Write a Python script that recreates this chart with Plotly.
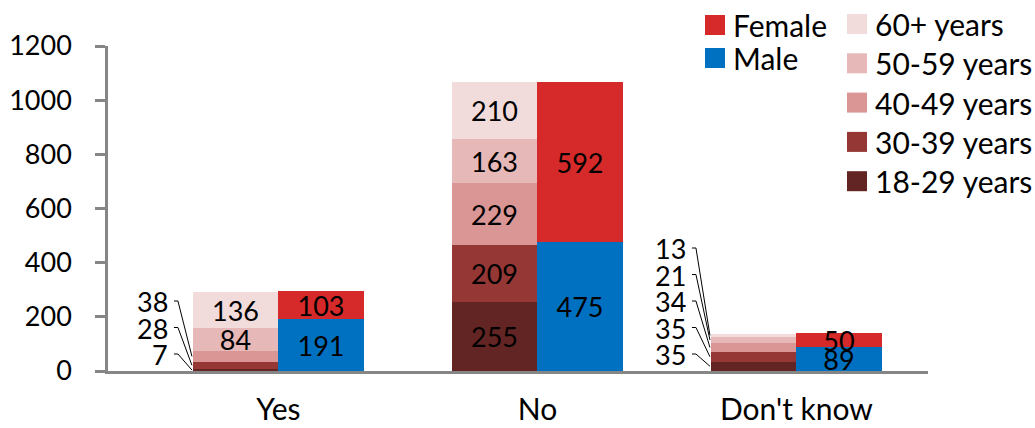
import plotly.graph_objects as go

# ---------------- data ----------------
categories = ["Yes", "No", "Don't know"]
age_groups = ["18-29 years", "30-39 years", "40-49 years", "50-59 years", "60+ years"]
age_values = {
    "18-29 years": [7, 255, 35],
    "30-39 years": [28, 209, 35],
    "40-49 years": [38, 229, 34],
    "50-59 years": [84, 163, 21],
    "60+ years":   [136, 210, 13],
}
genders = ["Male", "Female"]
gender_values = {
    "Male":   [191, 475, 89],
    "Female": [103, 592, 50],
}
y_ticks = [0, 200, 400, 600, 800, 1000, 1200]

# ---------------- styles ----------------
age_colors = {
    "18-29 years": "#632523",
    "30-39 years": "#953735",
    "40-49 years": "#D99694",
    "50-59 years": "#E6B9B8",
    "60+ years":   "#F2DCDB",
}
gender_colors = {"Male": "#0070C0", "Female": "#D62A2A"}
FONT = "Lato"
AXIS_GRAY = "#868686"

W, H = 1035, 428
ML, MR, MT, MB = 108, 107, 46, 57
PLOT_W = W - ML - MR
PLOT_H = H - MT - MB
Y_MAX = 1200
PX_PER_UNIT = PLOT_H / Y_MAX

BAR_W = 0.33
AGE_OFF = -0.165
GEN_OFF = 0.165
X_RANGE = [-0.658, 2.508]
INSIDE_MIN = 60  # segments smaller than this get a leader label

fig = go.Figure()

# age stacks
for g in age_groups:
    vals = age_values[g]
    fig.add_trace(go.Bar(
        name=g, x=[i + AGE_OFF for i in range(len(categories))], y=vals,
        width=BAR_W, marker=dict(color=age_colors[g], line=dict(width=0)),
        text=[str(v) if v >= INSIDE_MIN else "" for v in vals],
        textposition="inside", insidetextanchor="middle", textangle=0,
        textfont=dict(family=FONT, size=27, color="black"),
        showlegend=False, hoverinfo="name+y",
    ))

# gender stacks
for g in genders:
    vals = gender_values[g]
    fig.add_trace(go.Bar(
        name=g, x=[i + GEN_OFF for i in range(len(categories))], y=vals,
        width=BAR_W, marker=dict(color=gender_colors[g], line=dict(width=0)),
        text=[str(v) for v in vals],
        textposition="inside", insidetextanchor="middle", textangle=0,
        textfont=dict(family=FONT, size=27, color="black"),
        showlegend=False, hoverinfo="name+y",
    ))

# leader labels for small age segments
shapes = []
annotations = []
LABEL_BASE_PX = 17
LABEL_STEP_PX = 26.5
for ci in range(len(categories)):
    bar_left = ci + AGE_OFF - BAR_W / 2
    cum = 0
    k = 0
    for g in age_groups:
        v = age_values[g][ci]
        mid = cum + v / 2
        cum += v
        if v >= INSIDE_MIN:
            continue
        ylab = (LABEL_BASE_PX + LABEL_STEP_PX * k) / PX_PER_UNIT
        k += 1
        annotations.append(dict(
            x=bar_left, y=ylab, xref="x", yref="y", text=str(v),
            xanchor="right", yanchor="middle", xshift=-23, showarrow=False,
            font=dict(family=FONT, size=27, color="black"), height=24,
        ))
        shapes.append(dict(
            type="path", xref="x", yref="y", xsizemode="pixel", xanchor=bar_left,
            path=f"M-19,{ylab} L-15,{ylab} L-1,{mid}",
            line=dict(color="black", width=1),
        ))

# manual legend (pixel -> paper)
def px(xpix):
    return (xpix - ML) / PLOT_W

def py(ypix):
    return (H - MB - ypix) / PLOT_H

SQ = 20
legend_left = [("Female", gender_colors["Female"], 25), ("Male", gender_colors["Male"], 58)]
for name, col, cy in legend_left:
    shapes.append(dict(type="rect", xref="paper", yref="paper",
                       x0=px(705), x1=px(705 + SQ), y0=py(cy - SQ / 2), y1=py(cy + SQ / 2),
                       fillcolor=col, line=dict(width=0)))
    annotations.append(dict(x=px(731), y=py(cy), xref="paper", yref="paper", text=name,
                            xanchor="left", yanchor="middle", showarrow=False,
                            font=dict(family=FONT, size=30, color="black")))
for i, g in enumerate(reversed(age_groups)):
    cy = 24 + 39.3 * i
    shapes.append(dict(type="rect", xref="paper", yref="paper",
                       x0=px(847), x1=px(847 + SQ), y0=py(cy - SQ / 2), y1=py(cy + SQ / 2),
                       fillcolor=age_colors[g], line=dict(width=0)))
    annotations.append(dict(x=px(873), y=py(cy), xref="paper", yref="paper", text=g,
                            xanchor="left", yanchor="middle", showarrow=False,
                            font=dict(family=FONT, size=30, color="black")))

fig.update_layout(
    width=W, height=H,
    margin=dict(l=ML, r=MR, t=MT, b=MB, pad=0),
    barmode="stack", bargap=0,
    paper_bgcolor="white", plot_bgcolor="white",
    font=dict(family=FONT, size=27, color="black"),
    uniformtext=dict(minsize=27, mode="show"),
    shapes=shapes, annotations=annotations,
    showlegend=False,
    xaxis=dict(range=X_RANGE, tickvals=list(range(len(categories))), ticktext=categories,
               showgrid=False, zeroline=False, showline=True, linecolor=AXIS_GRAY, linewidth=3,
               ticks="", ticklabelstandoff=10, automargin=False,
               tickfont=dict(family=FONT, size=30, color="black")),
    yaxis=dict(range=[0, Y_MAX], tickvals=y_ticks, showgrid=False, zeroline=False,
               showline=True, linecolor=AXIS_GRAY, linewidth=2.5,
               ticks="outside", ticklen=10, tickwidth=2.5, tickcolor=AXIS_GRAY,
               ticklabelstandoff=18, automargin=False,
               tickfont=dict(family=FONT, size=27, color="black")),
)

fig.write_html("out.html")
